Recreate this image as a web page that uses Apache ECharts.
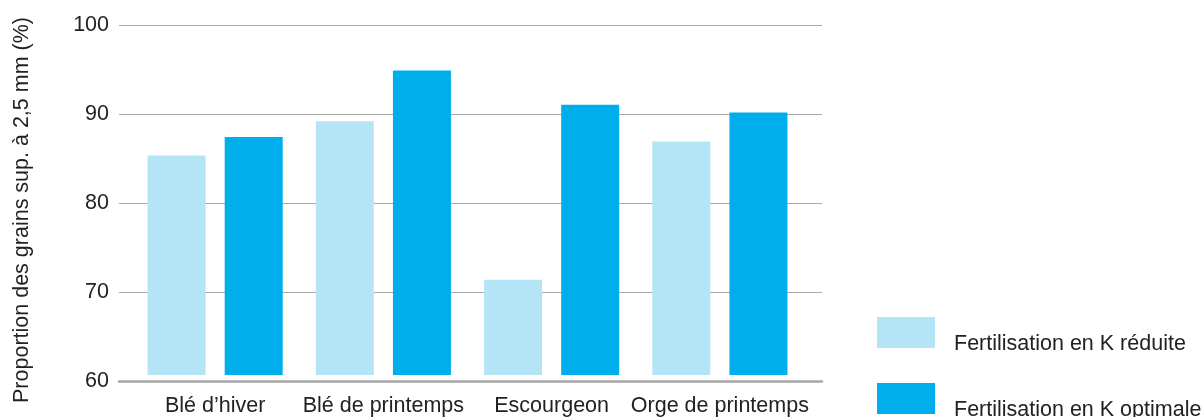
<!DOCTYPE html>
<html>
<head>
<meta charset="utf-8">
<script src="https://cdn.jsdelivr.net/npm/echarts@6/dist/echarts.min.js"></script>
<style>
  html, body { margin: 0; padding: 0; background: #fff; }
  #chart { width: 1204px; height: 417px; }
</style>
</head>
<body>
<div id="chart"></div>
<script>
// données
var categories = ["Blé d’hiver", "Blé de printemps", "Escourgeon", "Orge de printemps"];
var reduite = [85.1, 89.0, 70.9, 86.7];
var optimale = [87.2, 94.8, 90.9, 90.0];
var seriesNames = ["Fertilisation en K réduite", "Fertilisation en K optimale"];
var yTicks = [60, 70, 80, 90, 100];

var font = "Liberation Sans, Arial, Helvetica, sans-serif";
var chart = echarts.init(document.getElementById("chart"));

function legendAt(name, top) {
  return {
    left: 877,
    top: top,
    padding: 0,
    itemWidth: 58,
    itemHeight: 31,
    icon: "rect",
    data: [name],
    formatter: "{t|{name}}",
    textStyle: {
      fontFamily: font,
      fontSize: 21.5,
      color: "#222",
      rich: {
        t: {
          fontFamily: font,
          fontSize: 21.5,
          color: "#222",
          padding: [24, 0, 0, 14]
        }
      }
    }
  };
}

var option = {
  animation: false,
  textStyle: { fontFamily: font },
  grid: [
    // grille des lignes horizontales (pleine largeur)
    { left: 119, right: 382, top: 25, bottom: 36 },
    // grille des barres
    { left: 131, right: 400, top: 25, bottom: 36 }
  ],
  legend: [legendAt(seriesNames[0], 317), legendAt(seriesNames[1], 383)],
  xAxis: [
    {
      gridIndex: 0,
      type: "category",
      data: categories,
      z: 5,
      axisLine: { show: true, lineStyle: { color: "#a6a6a6", width: 2.5 } },
      axisTick: { show: false },
      axisLabel: { show: false },
      splitLine: { show: false }
    },
    {
      gridIndex: 1,
      type: "category",
      data: categories,
      axisLine: { show: false },
      axisTick: { show: false },
      axisLabel: {
        interval: 0,
        color: "#222",
        fontFamily: font,
        fontSize: 21.5,
        margin: 20
      }
    }
  ],
  yAxis: [
    {
      gridIndex: 0,
      type: "value",
      min: yTicks[0],
      max: yTicks[yTicks.length - 1],
      interval: 10,
      z: 0,
      name: "Proportion des grains sup. à 2,5 mm (%)",
      nameLocation: "middle",
      nameGap: 86,
      nameTextStyle: {
        color: "#222",
        fontFamily: font,
        fontSize: 21.5,
        padding: [0, 14, 0, 0]
      },
      axisLine: { show: false },
      axisTick: { show: false },
      axisLabel: {
        color: "#222",
        fontFamily: font,
        fontSize: 21.5,
        margin: 10,
        padding: [0, 0, 12, 0]
      },
      splitLine: { lineStyle: { color: "#aaaaaa", width: 1.2 } }
    },
    {
      gridIndex: 1,
      type: "value",
      min: yTicks[0],
      max: yTicks[yTicks.length - 1],
      interval: 10,
      show: false,
      splitLine: { show: false }
    }
  ],
  series: [
    {
      name: seriesNames[0],
      type: "bar",
      xAxisIndex: 1,
      yAxisIndex: 1,
      data: reduite,
      barWidth: 58,
      barGap: "33%",
      itemStyle: { color: "#b3e5f7" }
    },
    {
      name: seriesNames[1],
      type: "bar",
      xAxisIndex: 1,
      yAxisIndex: 1,
      data: optimale,
      barWidth: 58,
      barGap: "33%",
      itemStyle: { color: "#00aeeb" }
    }
  ]
};

chart.setOption(option);
</script>
</body>
</html>
